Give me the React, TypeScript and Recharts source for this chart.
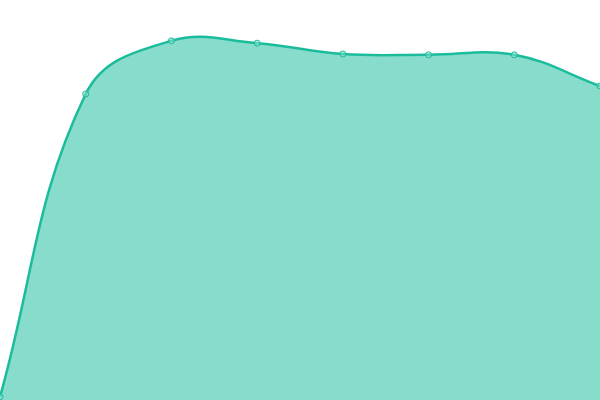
import { Area, AreaChart, XAxis, YAxis } from "recharts"

const labels = ["1", "2", "3", "4", "5", "6", "7", "8"]
const values = [0.8, 76.5, 89.8, 89.2, 86.5, 86.3, 86.3, 78.5]

const data = labels.map((name, i) => ({ name, value: values[i] }))

// tension spline, a bit like chart.js lines
const tensionCurve = (tension: number) => (context: any) => {
  let pts: number[][] = []
  let line = NaN
  return {
    areaStart() {
      line = 0
    },
    areaEnd() {
      line = NaN
    },
    lineStart() {
      pts = []
    },
    lineEnd() {
      const n = pts.length
      if (n) {
        if (line) context.lineTo(pts[0][0], pts[0][1])
        else context.moveTo(pts[0][0], pts[0][1])
        const cpPrev: number[][] = []
        const cpNext: number[][] = []
        for (let i = 0; i < n; i++) {
          const cur = pts[i]
          const prev = pts[i - 1] || cur
          const next = pts[i + 1] || cur
          const d01 = Math.hypot(cur[0] - prev[0], cur[1] - prev[1])
          const d12 = Math.hypot(next[0] - cur[0], next[1] - cur[1])
          let s01 = d01 / (d01 + d12)
          let s12 = d12 / (d01 + d12)
          if (isNaN(s01)) s01 = 0
          if (isNaN(s12)) s12 = 0
          const fa = tension * s01
          const fb = tension * s12
          cpPrev.push([cur[0] - fa * (next[0] - prev[0]), cur[1] - fa * (next[1] - prev[1])])
          cpNext.push([cur[0] + fb * (next[0] - prev[0]), cur[1] + fb * (next[1] - prev[1])])
        }
        for (let i = 1; i < n; i++) {
          context.bezierCurveTo(cpNext[i - 1][0], cpNext[i - 1][1], cpPrev[i][0], cpPrev[i][1], pts[i][0], pts[i][1])
        }
      }
      if (line || (line !== 0 && n === 1)) context.closePath()
      line = 1 - line
    },
    point(x: number, y: number) {
      pts.push([+x, +y])
    },
  }
}

export default function App() {
  return (
    <div style={{ position: "absolute", top: 0, left: 0, width: 600, height: 400, background: "#fff" }}>
      <AreaChart width={600} height={400} data={data} margin={{ top: 0, right: 0, bottom: 0, left: 0 }}>
        <XAxis dataKey="name" hide />
        <YAxis hide domain={[0, 100]} />
        <Area
          type={tensionCurve(0.4) as any}
          dataKey="value"
          stroke="#1abc9c"
          strokeWidth={2.5}
          fill="#1abc9c"
          fillOpacity={0.52}
          dot={{ r: 3, fill: "#8ce0cf", stroke: "#1abc9c", strokeWidth: 1 }}
          activeDot={false}
          isAnimationActive={false}
        />
      </AreaChart>
    </div>
  )
}
